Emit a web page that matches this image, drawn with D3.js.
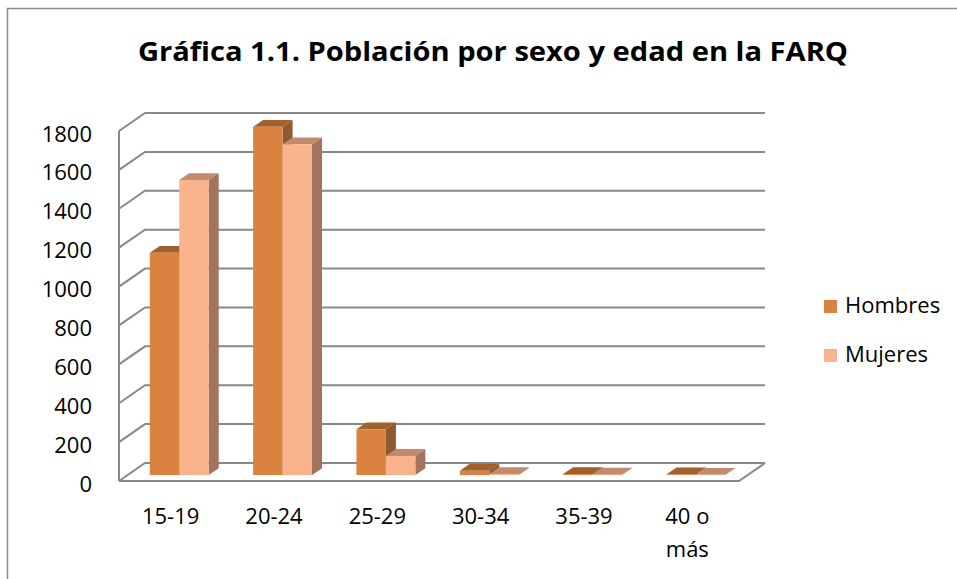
<!DOCTYPE html>
<html>
<head>
<meta charset="utf-8">
<script src="https://cdn.jsdelivr.net/npm/d3@7"></script>
<style>
  body { margin: 0; background: #fff; }
  text { font-family: "Open Sans", sans-serif; fill: #000; }
</style>
</head>
<body>
<svg id="chart" width="957" height="579"></svg>
<script>
// Data
const categories = ['15-19', '20-24', '25-29', '30-34', '35-39', '40 o más']
const series = ['Hombres', 'Mujeres']
const hombres = [1143, 1791, 235, 22, 5, 3]
const mujeres = [1517, 1701, 98, 5, 2, 1]
const yTicks = [0, 200, 400, 600, 800, 1000, 1200, 1400, 1600, 1800]

// Face colours: front, top, side
const colors = {
  Hombres: { front: '#DA8240', top: '#A3602A', side: '#8E5A30' },
  Mujeres: { front: '#F9B48D', top: '#C38B6E', side: '#A2735D' }
}

const svg = d3.select('#chart')

// Outer frame of the chart area
svg.append('rect')
  .attr('x', 7.5).attr('y', 8.5)
  .attr('width', 1000).attr('height', 1000)
  .attr('fill', 'none')
  .attr('stroke', '#8c8c8c')
  .attr('stroke-width', 1.5)

// Title
svg.append('text')
  .attr('x', 493).attr('y', 61)
  .attr('text-anchor', 'middle')
  .attr('font-size', 27)
  .attr('font-weight', 'bold')
  .attr('textLength', 710)
  .attr('lengthAdjust', 'spacingAndGlyphs')
  .text('Gráfica 1.1. Población por sexo y edad en la FARQ')

// Front plane scales; depth goes back along (DX, DY)
const left = 119, right = 739
const DX = 26, DY = -18
const xScale = d3.scaleBand().domain(categories)
  .range([left, right]).paddingInner(0.43).paddingOuter(0.215)
const xSub = d3.scaleBand().domain(series).range([0, xScale.bandwidth()])
const yScale = d3.scaleLinear().domain([0, 1800]).range([481, 131])

const proj = (x, y, d) => [x + DX * d, y + DY * d]

// Grid on the back and left walls
const grid = svg.append('g').attr('class', 'grid')
  .attr('fill', 'none').attr('stroke', '#888').attr('stroke-width', 2)

yTicks.forEach(t => {
  const y = yScale(t)
  const pts = [[left, y], proj(left, y, 1), proj(right, y, 1)]
  grid.append('polyline').attr('points', pts.map(p => p.join(',')).join(' '))
})

// Left front edge and floor
grid.append('line')
  .attr('x1', left).attr('x2', left)
  .attr('y1', yScale(0)).attr('y2', yScale(1800))
const floor = [proj(left, yScale(0), 0), proj(right, yScale(0), 0), proj(right, yScale(0), 1)]
grid.append('polyline').attr('points', floor.map(p => p.join(',')).join(' '))

// Y tick labels
svg.append('g').selectAll('text')
  .data(yTicks)
  .enter()
  .append('text')
  .attr('x', 92)
  .attr('y', d => yScale(d) + 10.5)
  .attr('text-anchor', 'end')
  .attr('font-size', 22)
  .text(d => d)

// 3D bars: front face at depth d0, back at d1
const d0 = 0.33, d1 = 0.715
const barData = []
categories.forEach((c, i) => {
  barData.push({ cat: c, key: 'Hombres', value: hombres[i] })
  barData.push({ cat: c, key: 'Mujeres', value: mujeres[i] })
})

const poly = pts => pts.map(p => p.join(',')).join(' ')
const bars = svg.append('g').attr('class', 'bars')
  .selectAll('g')
  .data(barData)
  .enter()
  .append('g')

bars.each(function (b) {
  const g = d3.select(this)
  const x0 = xScale(b.cat) + xSub(b.key)
  const x1 = x0 + xSub.bandwidth()
  const yb = yScale(0), yt = yScale(b.value)
  const c = colors[b.key]
  // side face
  g.append('polygon')
    .attr('points', poly([proj(x1, yb, d0), proj(x1, yb, d1), proj(x1, yt, d1), proj(x1, yt, d0)]))
    .attr('fill', c.side)
  // top face
  g.append('polygon')
    .attr('points', poly([proj(x0, yt, d0), proj(x1, yt, d0), proj(x1, yt, d1), proj(x0, yt, d1)]))
    .attr('fill', c.top)
  // front face
  g.append('polygon')
    .attr('points', poly([proj(x0, yb, d0), proj(x1, yb, d0), proj(x1, yt, d0), proj(x0, yt, d0)]))
    .attr('fill', c.front)
})

// Category labels
const catLabels = svg.append('g').selectAll('text')
  .data(categories)
  .enter()
  .append('text')
  .attr('text-anchor', 'middle')
  .attr('font-size', 22)

catLabels.each(function (c) {
  const t = d3.select(this)
  const cx = xScale(c) + xScale.bandwidth() / 2
  const lines = c === '40 o más' ? ['40 o', 'más'] : [c]
  lines.forEach((l, i) => {
    t.append('tspan').attr('x', cx).attr('y', 524 + i * 33).text(l)
  })
})

// Legend
const legend = svg.append('g').selectAll('g')
  .data(series)
  .enter()
  .append('g')
  .attr('transform', (d, i) => 'translate(824,' + (300 + i * 49) + ')')

legend.append('rect')
  .attr('width', 13).attr('height', 13)
  .attr('fill', d => colors[d].front)

legend.append('text')
  .attr('x', 21).attr('y', 12.5)
  .attr('font-size', 22)
  .text(d => d)
</script>
</body>
</html>
